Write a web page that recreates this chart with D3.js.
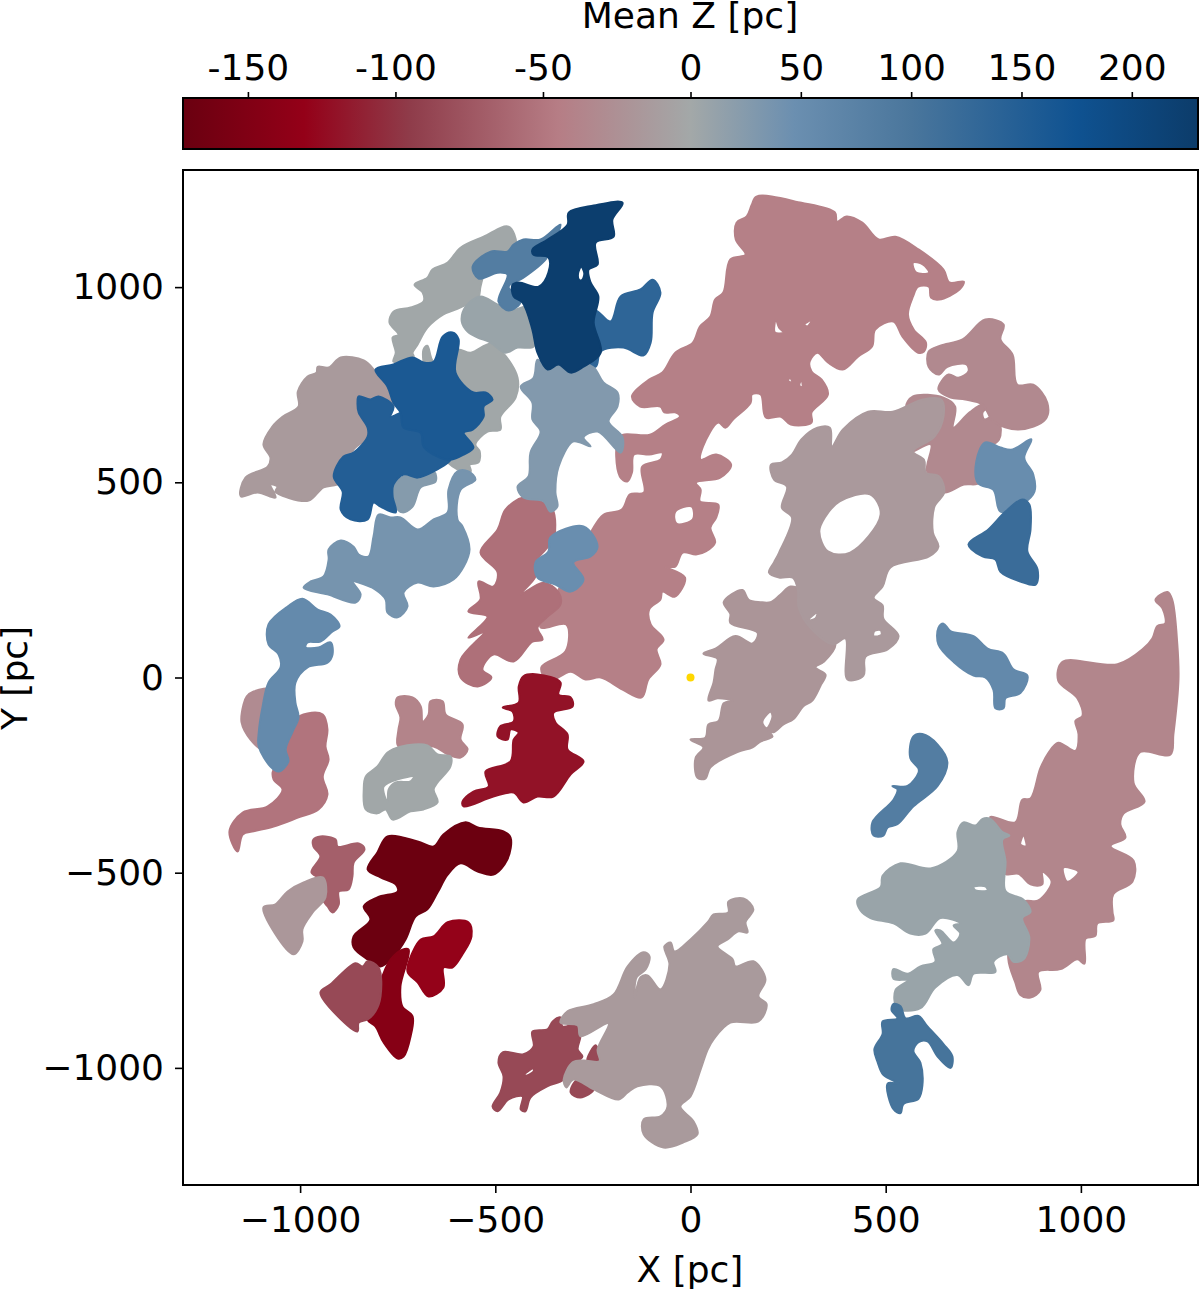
<!DOCTYPE html>
<html>
<head>
<meta charset="utf-8">
<style>
  body { margin: 0; background: #fff; }
  svg { display: block; }
  text { font-family: "DejaVu Sans", sans-serif; fill: #000; }
</style>
<script src="https://cdn.jsdelivr.net/npm/d3@7"></script>
</head>
<body>
<svg id="chart" width="1200" height="1291"></svg>
<script>
// axis ticks
var xTicks = [-1000, -500, 0, 500, 1000];
var yTicks = [-1000, -500, 0, 500, 1000];
var zTicks = [-150, -100, -50, 0, 50, 100, 150, 200];

// colour bar
var zStops = [-172, -131, -95, -45, 0, 47, 100, 175, 230];
var zColors = ["#6a0010", "#940018", "#8f3c4a", "#b67d85", "#a3a8a8", "#6b8fb0", "#4a769c", "#0f5291", "#0c3c6a"];

// cloud outlines, [X, Y] in pc
var grayArc = [[-466,1155],[-446,1109],[-461,1078],[-520,1050],[-538,1001],[-543,976],[-589,948],[-633,930],[-674,896],[-699,853],[-712,832],[-709,820],[-761,809],[-755,832],[-763,871],[-748,878],[-771,909],[-761,937],[-717,948],[-684,963],[-686,986],[-707,1006],[-674,1024],[-661,1045],[-622,1063],[-589,1101],[-530,1129]];
var grayBehind = [[-674,850],[-658,809],[-597,840],[-563,832],[-512,855],[-481,832],[-443,768],[-448,717],[-487,668],[-487,635],[-520,630],[-551,597],[-540,579],[-543,551],[-566,545],[-563,528],[-597,533],[-648,584],[-666,694],[-684,807],[-684,840]];
var grayBlue = [[-538,976],[-494,955],[-453,942],[-417,950],[-402,909],[-402,848],[-443,845],[-474,832],[-512,858],[-545,871],[-571,886],[-586,912],[-576,950]];
var taupeLeft = [[-896,820],[-837,812],[-807,784],[-776,745],[-761,694],[-820,617],[-863,584],[-896,499],[-940,487],[-978,453],[-1032,461],[-1063,476],[-1058,489],[-1076,494],[-1063,461],[-1109,474],[-1152,464],[-1140,512],[-1083,540],[-1076,563],[-1094,597],[-1071,643],[-1045,668],[-1004,694],[-1006,732],[-981,771],[-958,781],[-955,796],[-927,794]];
var smallGrayBlue = [[-761,489],[-735,515],[-658,528],[-653,502],[-691,487],[-712,438],[-738,423],[-755,438]];
var blueLower = [[-850,720],[-820,712],[-799,720],[-761,694],[-768,668],[-735,679],[-735,643],[-684,627],[-633,566],[-615,558],[-658,528],[-699,512],[-735,520],[-761,494],[-763,464],[-755,423],[-794,438],[-812,448],[-827,405],[-871,405],[-896,430],[-891,476],[-914,515],[-889,566],[-863,576],[-827,617],[-827,640],[-850,679],[-853,704]];
var blueUpper = [[-807,789],[-761,802],[-712,820],[-684,807],[-658,809],[-635,873],[-610,884],[-594,866],[-602,781],[-556,730],[-525,730],[-507,712],[-530,694],[-530,668],[-558,635],[-581,627],[-556,589],[-581,571],[-615,558],[-648,566],[-684,592],[-691,627],[-735,640],[-743,679],[-761,704],[-776,745]];
var steelMid = [[-799,417],[-768,410],[-743,410],[-699,379],[-658,405],[-622,423],[-620,481],[-597,528],[-569,528],[-551,507],[-589,481],[-597,405],[-584,387],[-566,328],[-581,284],[-607,251],[-658,233],[-699,243],[-735,218],[-725,182],[-750,154],[-776,166],[-781,200],[-807,225],[-850,243],[-866,246],[-845,213],[-858,192],[-930,213],[-991,230],[-973,246],[-940,259],[-927,302],[-927,328],[-896,351],[-863,335],[-850,315],[-825,310],[-812,361]];
var blueTopStrip = [[-558,1053],[-512,1091],[-469,1091],[-453,1109],[-428,1122],[-384,1122],[-333,1160],[-359,1096],[-371,1071],[-428,1024],[-466,1001],[-435,963],[-466,940],[-492,963],[-469,1032],[-494,1037],[-543,1022]];
var blueRightTop = [[-248,942],[-205,912],[-179,976],[-128,994],[-97,1019],[-77,986],[-97,935],[-102,858],[-120,825],[-172,845],[-230,835],[-243,796],[-282,796],[-295,891]];
var starCenter = [[-392,814],[-366,789],[-338,802],[-307,781],[-274,802],[-248,794],[-223,756],[-187,730],[-187,694],[-210,656],[-174,615],[-179,576],[-238,630],[-274,615],[-256,592],[-282,602],[-302,604],[-338,540],[-346,474],[-341,438],[-359,425],[-376,451],[-428,461],[-443,489],[-415,515],[-410,576],[-384,630],[-405,661],[-405,704],[-435,745],[-402,768]];
var navyTop = [[-312,1191],[-248,1209],[-174,1216],[-200,1173],[-197,1129],[-243,1114],[-238,1058],[-261,1045],[-256,1012],[-236,976],[-248,909],[-230,832],[-274,796],[-307,781],[-338,802],[-366,789],[-392,832],[-405,891],[-430,960],[-453,976],[-456,1006],[-440,1012],[-389,1001],[-364,1037],[-364,1076],[-402,1083],[-405,1096],[-366,1122],[-315,1160]];
var navyHole = [[-288,1035],[-280,1052],[-272,1035],[-278,1018],[-285,1018]];
var pinkBig = [[169,1232],[284,1216],[370,1191],[375,1168],[400,1181],[440,1165],[482,1122],[525,1129],[585,1096],[648,1045],[663,1012],[700,1014],[689,994],[637,968],[616,973],[611,1001],[583,1001],[570,976],[557,930],[572,891],[603,858],[598,835],[583,832],[543,873],[520,912],[473,891],[465,848],[429,822],[390,789],[352,807],[325,832],[305,809],[310,784],[336,763],[352,725],[310,679],[310,653],[257,648],[232,668],[193,666],[180,725],[157,725],[154,704],[109,661],[89,640],[71,653],[32,592],[26,558],[66,571],[104,545],[76,512],[14,499],[26,481],[24,451],[71,443],[66,410],[51,384],[63,346],[39,323],[14,315],[-20,320],[-39,284],[-64,284],[-14,256],[-41,207],[-72,220],[-77,200],[-106,174],[-102,136],[-69,97],[-87,72],[-77,33],[-108,-5],[-125,-51],[-174,-31],[-230,0],[-269,-5],[-307,15],[-364,-10],[-382,26],[-320,67],[-318,136],[-384,128],[-338,225],[-256,371],[-223,417],[-176,430],[-155,469],[-119,474],[-124,540],[-77,558],[-72,576],[-106,571],[-145,571],[-150,525],[-162,502],[-181,515],[-181,617],[-104,622],[-64,648],[-27,668],[-39,679],[-67,679],[-77,694],[-129,694],[-150,720],[-106,763],[-72,781],[-39,832],[6,858],[24,899],[51,925],[63,968],[84,986],[102,1071],[141,1083],[116,1122],[118,1165],[144,1181],[157,1211]];
var pinkHoles = [
  [[570,1063],[595,1058],[611,1037],[578,1037]],
  [[219,917],[227,896],[239,884],[216,884]],
  [[292,904],[312,917],[299,899]],
  [[-39,425],[3,438],[6,405],[-36,394]],
  [[255,768],[261,755],[250,760]],
  [[284,763],[287,743],[279,748]]
];
var pinkDark = [[-428,461],[-384,451],[-353,430],[-351,353],[-371,328],[-397,295],[-397,259],[-435,213],[-376,243],[-338,218],[-333,187],[-366,156],[-392,128],[-379,97],[-405,92],[-453,41],[-505,59],[-533,20],[-510,0],[-545,-23],[-589,0],[-589,46],[-530,115],[-569,102],[-520,156],[-569,169],[-538,200],[-543,246],[-505,233],[-494,269],[-538,320],[-494,379],[-474,430]];
var blueSmallHook = [[-359,359],[-274,387],[-238,335],[-256,310],[-300,295],[-274,251],[-307,220],[-346,238],[-392,256],[-397,295],[-364,323]];
var taupeRing = [[325,640],[357,640],[362,592],[390,635],[455,681],[518,681],[595,712],[642,712],[648,668],[625,617],[570,579],[598,558],[603,525],[637,515],[650,474],[625,438],[621,371],[635,335],[611,310],[512,282],[492,233],[469,204],[492,185],[494,151],[533,106],[505,72],[448,53],[443,5],[402,-5],[397,100],[366,85],[307,127],[277,180],[275,225],[262,256],[227,256],[201,269],[214,295],[227,320],[260,410],[234,435],[247,489],[214,507],[206,545],[234,551],[260,571],[284,610]];
var ringHoles = [
  [[382,451],[460,469],[487,417],[409,320],[352,323],[330,374],[344,410]],
  [[471,119],[487,121],[489,109],[469,106]],
  [[300,146],[325,167],[320,151]]
];
var pinkBehindRing = [[552,691],[570,720],[648,717],[678,694],[673,640],[715,679],[751,699],[790,661],[790,609],[741,576],[741,499],[700,494],[650,474],[635,499],[606,528],[616,597],[570,579],[616,617]];
var pinkBehindHole = [[748,679],[770,691],[772,673],[753,661]];
var pinkUpperRight = [[755,917],[802,904],[794,866],[825,827],[837,750],[878,750],[914,704],[909,661],[840,635],[776,656],[748,699],[704,712],[666,717],[635,738],[661,776],[686,768],[712,784],[707,802],[658,796],[635,776],[610,796],[610,835],[640,850],[697,866]];
var blueRightA = [[755,602],[794,589],[825,584],[873,610],[855,563],[878,520],[881,476],[855,448],[794,425],[776,481],[737,497],[732,553]];
var blueRightB = [[850,456],[868,443],[871,379],[863,323],[889,277],[884,238],[845,246],[794,271],[781,302],[748,310],[712,341],[763,379],[807,425]];
var taupeStar = [[85,193],[133,224],[149,199],[179,193],[205,193],[230,212],[256,233],[282,224],[287,180],[315,127],[371,85],[341,40],[320,26],[346,7],[333,-21],[312,-59],[289,-74],[264,-106],[238,-120],[213,-140],[200,-137],[210,-151],[179,-164],[159,-179],[120,-191],[51,-230],[38,-259],[18,-257],[13,-206],[33,-179],[0,-159],[38,-154],[46,-120],[72,-111],[85,-66],[108,-59],[69,-53],[46,-59],[59,-13],[64,21],[69,48],[33,61],[64,74],[115,106],[159,87],[172,114],[102,140],[102,163]];
var starHole = [[205,-88],[184,-114],[195,-130],[210,-101]];
var blueLong = [[648,138],[666,119],[725,106],[761,74],[802,61],[827,21],[863,5],[845,-40],[807,-53],[802,-79],[781,-79],[776,-32],[755,0],[725,5],[674,40],[635,85],[635,127]];
var pinkFarRight = [[1222,219],[1234,199],[1247,85],[1250,-5],[1237,-145],[1229,-198],[1152,-191],[1135,-270],[1163,-318],[1109,-349],[1101,-376],[1114,-410],[1076,-432],[1135,-469],[1132,-523],[1083,-555],[1081,-601],[1083,-622],[1042,-630],[1037,-662],[1012,-669],[1009,-733],[991,-722],[948,-747],[891,-754],[896,-801],[871,-820],[845,-813],[832,-781],[814,-720],[827,-630],[853,-574],[891,-571],[925,-523],[901,-498],[901,-530],[871,-530],[840,-503],[807,-503],[794,-455],[794,-410],[768,-357],[832,-371],[850,-313],[871,-310],[896,-233],[917,-193],[942,-167],[986,-188],[994,-145],[986,-111],[1004,-98],[991,-53],[942,-8],[953,40],[1094,34],[1160,74],[1183,100],[1196,132],[1216,138],[1209,177],[1191,199]];
var farRightHoles = [
  [[845,-428],[853,-405],[860,-432]],
  [[955,-487],[994,-498],[965,-523]]
];
var grayRight = [[699,-371],[730,-379],[748,-362],[768,-362],[799,-396],[817,-405],[799,-415],[807,-471],[807,-547],[853,-569],[871,-601],[850,-616],[868,-667],[853,-722],[827,-728],[812,-709],[776,-728],[781,-754],[725,-759],[712,-788],[684,-762],[627,-794],[589,-847],[530,-847],[525,-801],[556,-776],[520,-772],[520,-747],[556,-759],[589,-740],[627,-728],[622,-696],[645,-683],[627,-648],[640,-648],[674,-679],[691,-656],[674,-635],[691,-630],[640,-616],[602,-656],[563,-656],[520,-630],[461,-616],[435,-596],[428,-569],[487,-537],[492,-508],[538,-476],[615,-489],[684,-445],[684,-396]];
var grayRightHole = [[725,-537],[755,-535],[761,-545],[730,-545]];
var blueStrip = [[571,-151],[594,-145],[633,-172],[658,-217],[633,-278],[571,-330],[530,-376],[505,-384],[494,-405],[469,-405],[466,-371],[520,-313],[530,-286],[517,-278],[556,-278],[584,-244],[584,-233],[563,-206]];
var blueBottom = [[520,-836],[538,-842],[551,-873],[584,-867],[607,-894],[648,-939],[671,-971],[666,-1000],[633,-971],[607,-932],[584,-934],[571,-957],[589,-987],[594,-1045],[584,-1079],[545,-1093],[538,-1116],[520,-1106],[505,-1040],[533,-1040],[494,-1018],[479,-984],[471,-952],[492,-913],[492,-881],[530,-873],[515,-852]];
var taupeBottom = [[97,-574],[136,-566],[161,-594],[141,-627],[146,-653],[123,-650],[95,-671],[69,-689],[108,-722],[115,-740],[161,-727],[192,-773],[174,-817],[195,-837],[174,-881],[102,-884],[59,-927],[44,-953],[26,-1004],[0,-1073],[-26,-1099],[8,-1137],[18,-1170],[-18,-1191],[-69,-1204],[-120,-1170],[-120,-1132],[-77,-1124],[-59,-1099],[-77,-1047],[-136,-1047],[-161,-1063],[-184,-1081],[-248,-1055],[-300,-1030],[-318,-1050],[-325,-1030],[-302,-986],[-274,-981],[-233,-983],[-238,-953],[-210,-886],[-282,-919],[-289,-891],[-333,-884],[-315,-855],[-248,-837],[-197,-812],[-161,-740],[-120,-704],[-105,-714],[-115,-748],[-138,-768],[-143,-820],[-128,-768],[-110,-763],[-77,-799],[-54,-735],[-67,-689],[-51,-679],[-41,-702],[0,-671],[44,-627],[59,-607],[97,-602]];
var brickBottom = [[-333,-871],[-328,-894],[-289,-889],[-282,-919],[-289,-953],[-277,-971],[-307,-996],[-325,-1030],[-366,-1047],[-410,-1076],[-423,-1111],[-435,-1106],[-430,-1073],[-466,-1081],[-494,-1111],[-507,-1099],[-487,-1063],[-479,-1022],[-492,-986],[-481,-960],[-428,-965],[-402,-945],[-405,-907],[-366,-901],[-353,-881]];
var brickHole = [[-425,-1017],[-402,-1001],[-402,-1009],[-423,-1020]];
var brickBitA = [[-243,-942],[-230,-971],[-213,-996],[-218,-1004],[-264,-983],[-256,-958]];
var brickBitB = [[-289,-1030],[-248,-1055],[-282,-1076],[-307,-1063]];
var blueLeft = [[-994,202],[-955,174],[-922,161],[-899,131],[-917,118],[-948,92],[-981,90],[-986,77],[-953,77],[-922,90],[-917,59],[-930,38],[-981,26],[-1012,-13],[-1012,-64],[-1004,-102],[-1019,-138],[-1037,-184],[-1030,-215],[-1055,-241],[-1076,-228],[-1106,-177],[-1106,-141],[-1096,-74],[-1081,-13],[-1050,26],[-1055,59],[-1081,85],[-1081,136],[-1032,182]];
var taupeSliver = [[-1119,-36],[-1071,-31],[-1081,-108],[-1096,-184],[-1127,-159],[-1150,-115],[-1145,-69],[-1137,-49]];
var pinkLeft = [[-1012,-108],[-981,-92],[-942,-95],[-930,-133],[-935,-177],[-927,-210],[-942,-254],[-930,-300],[-953,-338],[-1006,-359],[-1068,-382],[-1119,-394],[-1147,-402],[-1160,-446],[-1181,-394],[-1147,-346],[-1083,-330],[-1045,-287],[-1068,-261],[-1068,-236],[-1030,-210],[-1042,-184],[-1019,-141]];
var pinkCrown = [[-750,-51],[-712,-51],[-691,-74],[-686,-113],[-671,-95],[-666,-61],[-635,-61],[-627,-95],[-584,-120],[-589,-159],[-571,-184],[-589,-205],[-622,-197],[-658,-177],[-748,-177],[-748,-133],[-743,-102],[-755,-69]];
var grayLoop = [[-776,-192],[-743,-177],[-674,-174],[-648,-197],[-615,-202],[-615,-228],[-648,-269],[-658,-287],[-648,-320],[-684,-338],[-717,-343],[-763,-364],[-781,-338],[-802,-348],[-832,-338],[-837,-287],[-832,-254],[-802,-228]];
var grayLoopHole = [[-786,-279],[-750,-261],[-709,-254],[-717,-266],[-755,-269],[-773,-287],[-776,-320],[-786,-295]];
var crimson = [[-428,3],[-392,8],[-333,-13],[-338,-44],[-307,-51],[-302,-74],[-351,-90],[-346,-115],[-315,-146],[-315,-184],[-274,-215],[-307,-248],[-351,-305],[-392,-305],[-428,-320],[-453,-295],[-505,-305],[-581,-330],[-584,-318],[-556,-292],[-517,-279],[-525,-241],[-461,-215],[-453,-159],[-440,-141],[-461,-133],[-469,-159],[-494,-151],[-487,-125],[-453,-113],[-456,-87],[-481,-77],[-440,-64],[-440,-23]];
var darkest = [[-776,-407],[-699,-420],[-658,-433],[-633,-402],[-576,-371],[-545,-384],[-479,-394],[-461,-410],[-469,-466],[-505,-505],[-545,-497],[-589,-476],[-622,-505],[-648,-551],[-674,-594],[-704,-612],[-730,-671],[-761,-715],[-794,-740],[-827,-722],[-863,-691],[-863,-663],[-820,-620],[-837,-586],[-802,-563],[-750,-548],[-755,-530],[-794,-512],[-827,-492],[-802,-448]];
var darkRed = [[-738,-697],[-722,-697],[-743,-791],[-738,-843],[-712,-868],[-717,-919],[-735,-971],[-750,-976],[-786,-935],[-807,-894],[-827,-876],[-802,-832],[-794,-781],[-768,-722]];
var brickLower = [[-858,-732],[-840,-740],[-827,-727],[-799,-743],[-794,-817],[-807,-855],[-827,-876],[-850,-884],[-853,-907],[-948,-807],[-922,-786]];
var brightRed = [[-691,-671],[-658,-663],[-622,-627],[-569,-627],[-561,-663],[-584,-709],[-610,-743],[-633,-743],[-633,-794],[-671,-817],[-699,-781],[-725,-753],[-712,-704]];
var brickSmall = [[-948,-407],[-909,-415],[-904,-433],[-850,-425],[-835,-440],[-863,-474],[-866,-510],[-876,-543],[-901,-548],[-901,-581],[-917,-602],[-930,-586],[-942,-569],[-948,-517],[-971,-499],[-948,-458],[-966,-433],[-966,-415]];
var taupeTriangle = [[-942,-512],[-935,-563],[-968,-602],[-994,-645],[-994,-676],[-1017,-709],[-1094,-589],[-1063,-581],[-1032,-548],[-991,-525]];

// mean Z of each cloud in draw order, later ones sit on top
var clouds = [
  [grayArc, 2], [grayBehind, 2], [taupeLeft, -15], [grayBlue, 8],
  [blueTopStrip, 85], [smallGrayBlue, 25], [blueLower, 150], [blueUpper, 160],
  [steelMid, 38], [blueRightTop, 135], [pinkBig, -42, pinkHoles], [pinkDark, -55],
  [starCenter, 28], [navyTop, 225, [navyHole]], [blueSmallHook, 50],
  [pinkBehindRing, -32, [pinkBehindHole]], [pinkUpperRight, -32], [taupeStar, -20, [starHole]],
  [taupeRing, -16, ringHoles], [blueRightA, 52], [blueRightB, 120], [blueLong, 60],
  [pinkFarRight, -36, farRightHoles], [grayRight, 8, [grayRightHole]], [blueStrip, 85],
  [blueBottom, 105], [brickBottom, -85, [brickHole]], [brickBitA, -85], [brickBitB, -85],
  [taupeBottom, -15], [taupeSliver, -30], [pinkLeft, -52], [blueLeft, 58],
  [pinkCrown, -38], [grayLoop, 2, [grayLoopHole]], [crimson, -120], [darkest, -170],
  [darkRed, -145], [brightRed, -130], [brickLower, -85], [brickSmall, -68], [taupeTriangle, -18]
];

var svg = d3.select("#chart");
var left = 183, right = 1198, top_ = 170, bottom = 1185;
var barTop = 98, barBottom = 149;
var fontSize = 36;

var x = d3.scaleLinear().domain([-1300, 1300]).range([left, right]);
var y = d3.scaleLinear().domain([-1300, 1300]).range([bottom, top_]);
var color = d3.scaleLinear().domain(zStops).range(zColors);
var zScale = d3.scaleLinear().domain([-172, 0, 230]).range([left, 690.5, right]);

var line = d3.line()
  .x(function(d){ return x(d[0]); })
  .y(function(d){ return y(d[1]); })
  .curve(d3.curveCatmullRomClosed.alpha(.5));

// clouds, holes are extra subpaths
svg.append("g").selectAll("path")
  .data(clouds)
  .join("path")
  .attr("d", function(d){
    return [d[0]].concat(d[2] || []).map(function(p){ return line(p); }).join("");
  })
  .attr("fill-rule", "evenodd")
  .attr("fill", function(d){ return color(d[1]); })
  .attr("stroke", function(d){ return color(d[1]); })
  .attr("stroke-width", 2)
  .attr("stroke-linejoin", "round");

// the sun
svg.append("circle")
  .attr("cx", x(0)).attr("cy", y(0)).attr("r", 4)
  .attr("fill", "#ffd700");

// frame
svg.append("rect")
  .attr("x", left).attr("y", top_)
  .attr("width", right - left).attr("height", bottom - top_)
  .attr("fill", "none").attr("stroke", "#000").attr("stroke-width", 2);

function styleAxis(g){
  g.select(".domain").remove();
  g.selectAll(".tick line").attr("stroke", "#000").attr("stroke-width", 1.6);
  g.selectAll(".tick text").style("font-size", fontSize + "px").attr("fill", "#000");
}

svg.append("g")
  .attr("transform", "translate(0," + bottom + ")")
  .call(d3.axisBottom(x).tickValues(xTicks).tickFormat(d3.format("d")).tickSize(8).tickPadding(13))
  .call(styleAxis);

svg.append("g")
  .attr("transform", "translate(" + left + ",0)")
  .call(d3.axisLeft(y).tickValues(yTicks).tickFormat(d3.format("d")).tickSize(8).tickPadding(11))
  .call(styleAxis);

// colour bar
var grad = svg.append("defs").append("linearGradient")
  .attr("id", "zGrad")
  .attr("gradientUnits", "userSpaceOnUse")
  .attr("x1", left).attr("x2", right).attr("y1", 0).attr("y2", 0);
grad.selectAll("stop")
  .data(zStops)
  .join("stop")
  .attr("offset", function(d){ return (zScale(d) - left) / (right - left); })
  .attr("stop-color", function(d){ return color(d); });

svg.append("rect")
  .attr("x", left).attr("y", barTop)
  .attr("width", right - left).attr("height", barBottom - barTop)
  .attr("fill", "url(#zGrad)").attr("stroke", "#000").attr("stroke-width", 2);

svg.append("g")
  .attr("transform", "translate(0," + barTop + ")")
  .call(d3.axisTop(zScale).tickValues(zTicks).tickFormat(function(d){ return String(d); }).tickSize(6).tickPadding(12))
  .call(styleAxis);

// titles
svg.append("text").attr("x", 690).attr("y", 28).attr("text-anchor", "middle")
  .style("font-size", fontSize + "px").text("Mean Z [pc]");
svg.append("text").attr("x", 690).attr("y", 1282).attr("text-anchor", "middle")
  .style("font-size", fontSize + "px").text("X [pc]");
svg.append("text")
  .attr("transform", "translate(27,678) rotate(-90)")
  .attr("text-anchor", "middle")
  .style("font-size", fontSize + "px").text("Y [pc]");
</script>
</body>
</html>
